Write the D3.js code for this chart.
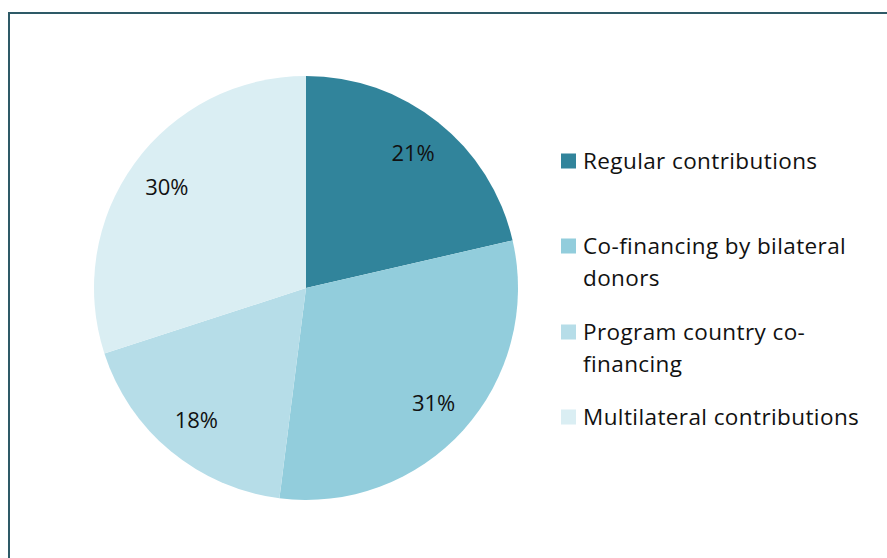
<!DOCTYPE html>
<html>
<head>
<meta charset="utf-8">
<script src="https://cdn.jsdelivr.net/npm/d3@7"></script>
<style>
  body { margin: 0; background: #fff; }
  svg { display: block; }
</style>
</head>
<body>
<div id="chart"></div>
<script>
var categories = ["Regular contributions", "Co-financing by bilateral donors", "Program country co-financing", "Multilateral contributions"];
var legend_lines = [["Regular contributions"], ["Co-financing by bilateral", "donors"], ["Program country co-", "financing"], ["Multilateral contributions"]];
var values = [21.4, 30.6, 18, 30];
var colors = ["#31849B", "#92CDDC", "#B6DDE8", "#DAEEF3"];

var width = 887, height = 558;
var cx = 306, cy = 288, radius = 212;

var svg = d3.select("#chart").append("svg")
  .attr("width", width)
  .attr("height", height);

// frame (right and bottom edges are cut off in the original)
svg.append("rect")
  .attr("x", 9).attr("y", 13)
  .attr("width", 900).attr("height", 600)
  .attr("fill", "#fff")
  .attr("stroke", "#2E5A67")
  .attr("stroke-width", 2);

var pie = d3.pie().sort(null).value(function (d) { return d; });
var arc = d3.arc().innerRadius(0).outerRadius(radius);
var label_arc = d3.arc().innerRadius(172).outerRadius(172);

var g = svg.append("g").attr("transform", "translate(" + cx + "," + cy + ")");

g.selectAll("path.slice")
  .data(pie(values))
  .enter().append("path")
  .attr("class", "slice")
  .attr("d", arc)
  .attr("fill", function (d, i) { return colors[i]; });

g.selectAll("text.label")
  .data(pie(values))
  .enter().append("text")
  .attr("class", "label")
  .attr("transform", function (d) { return "translate(" + label_arc.centroid(d) + ")"; })
  .attr("text-anchor", "middle")
  .attr("dy", "0.35em")
  .style("font-family", "'Open Sans', 'Noto Sans', sans-serif")
  .style("font-size", "22px")
  .style("fill", "#111")
  .text(function (d) { return Math.round(d.data) + "%"; });

// legend
var legend_top = [161, 246, 332, 417];

var legend = svg.append("g").attr("class", "legend");
var item = legend.selectAll("g")
  .data(categories)
  .enter().append("g")
  .attr("transform", function (d, i) { return "translate(561," + legend_top[i] + ")"; });

item.append("rect")
  .attr("x", 0).attr("y", -7.5)
  .attr("width", 15).attr("height", 15)
  .attr("fill", function (d, i) { return colors[i]; });

item.append("text")
  .attr("x", 22)
  .style("font-family", "'Open Sans', 'Noto Sans', sans-serif")
  .style("font-size", "22.5px")
  .style("letter-spacing", "0.4px")
  .style("fill", "#111")
  .selectAll("tspan")
  .data(function (d, i) { return legend_lines[i]; })
  .enter().append("tspan")
  .attr("x", 22)
  .attr("y", function (d, j) { return j * 32; })
  .attr("dy", "0.35em")
  .text(function (d) { return d; });
</script>
</body>
</html>
